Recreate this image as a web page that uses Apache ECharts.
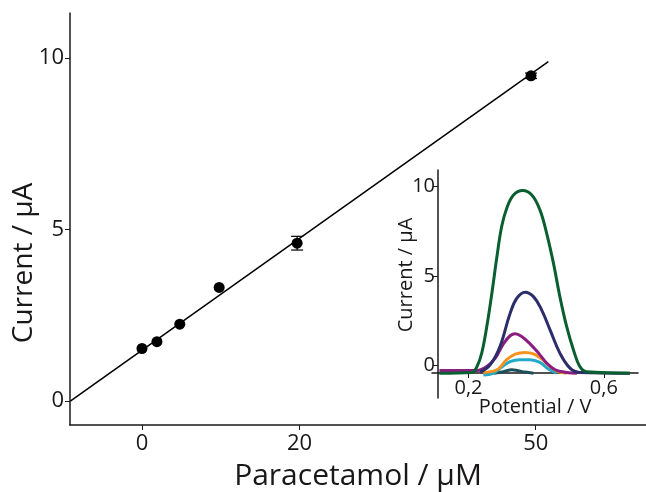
<!DOCTYPE html>
<html>
<head>
<meta charset="UTF-8">
<title>Paracetamol</title>
<script src="https://cdn.jsdelivr.net/npm/echarts@6/dist/echarts.min.js"></script>
<style>
	html, body { margin:0; padding:0; background:#fff; }
	#chart { width:646px; height:492px; }
</style>
</head>
<body>
<div id="chart"></div>
<script type="text/javascript">
	// calibration points (main plot)
	var concentration = [0, 1.9, 4.8, 9.8, 19.7, 49.4];
	var current = [1.53, 1.73, 2.24, 3.31, 4.60, 9.48];
	var currentErr = [0, 0, 0, 0, 0.2, 0.08];
	var fitSlope = 0.163, fitIntercept = 1.48;
	var fitRange = [-9.1, 51.6];
	var mainXTicks = [0, 20, 50];
	var mainYTicks = [0, 5, 10];

	// inset voltammograms [potential V, current µA]
	var curveGreen = [[0.114,-0.43],[0.210,-0.39],[0.225,-0.06],[0.239,0.69],[0.254,2.18],[0.269,4.04],[0.284,6.09],[0.298,7.77],[0.313,8.79],[0.333,9.53],[0.360,9.78],[0.387,9.53],[0.411,8.70],[0.431,7.39],[0.451,5.72],[0.470,3.85],[0.490,2.18],[0.510,0.88],[0.529,-0.06],[0.549,-0.35],[0.677,-0.43]];
	var curveNavy = [[0.234,-0.37],[0.264,0.04],[0.293,1.06],[0.323,2.92],[0.343,3.76],[0.367,4.10],[0.392,3.85],[0.416,3.11],[0.441,1.99],[0.470,0.69],[0.500,-0.15],[0.529,-0.39],[0.677,-0.43]];
	var curvePurple = [[0.114,-0.28],[0.225,-0.28],[0.254,-0.06],[0.279,0.41],[0.303,1.21],[0.323,1.66],[0.338,1.77],[0.357,1.62],[0.382,1.21],[0.407,0.69],[0.431,0.13],[0.456,-0.24],[0.490,-0.39],[0.520,-0.43]];
	var curveOrange = [[0.244,-0.39],[0.284,-0.24],[0.313,0.32],[0.338,0.63],[0.367,0.73],[0.392,0.65],[0.416,0.37],[0.441,-0.06],[0.465,-0.35],[0.490,-0.43]];
	var curveCyan = [[0.244,-0.54],[0.274,-0.43],[0.298,-0.09],[0.323,0.22],[0.352,0.32],[0.382,0.32],[0.411,0.17],[0.436,-0.20],[0.460,-0.43]];
	var curveTeal = [[0.274,-0.43],[0.303,-0.35],[0.328,-0.24],[0.347,-0.30],[0.367,-0.37],[0.392,-0.43]];
	var insetXTicks = [0.2, 0.6];
	var insetYTicks = [0, 5, 10];

	var ink = '#1a1718';
	var font = 'Open Sans';

	var chart = echarts.init(document.getElementById('chart'));

	var points = [];
	for (var i = 0; i < concentration.length; i++)
	{
		points.push([concentration[i], current[i], currentErr[i]]);
	}
	var fitLine = [
		[fitRange[0], fitIntercept + fitSlope * fitRange[0]],
		[fitRange[1], fitIntercept + fitSlope * fitRange[1]]
	];

	function curve(data, color)
	{
		return {
			type:'line', xAxisIndex:1, yAxisIndex:1, data:data,
			smooth:0.4, showSymbol:false, silent:true,
			lineStyle:{color:color, width:3}
		};
	}

	var option =
	{
		animation:false,
		grid:
		[
			{left:70, top:13, right:0, bottom:67, outerBoundsMode:'none', containLabel:false},
			{left:432, top:170, width:206, height:228, outerBoundsMode:'none', containLabel:false}
		],
		xAxis:
		[
			{
				type:'value', gridIndex:0, min:-9.14, max:64,
				splitLine:{show:false},
				axisLine:{onZero:false, lineStyle:{color:ink, width:1.5}},
				axisTick:{customValues:mainXTicks, length:5, lineStyle:{color:ink}},
				axisLabel:{customValues:mainXTicks, color:ink, fontFamily:font, fontSize:22, margin:8},
				name:'Paracetamol / µM', nameLocation:'middle', nameGap:36, nameMoveOverlap:false,
				nameTextStyle:{color:ink, fontFamily:font, fontSize:30}
			},
			{
				type:'value', gridIndex:1, min:0.092, max:0.701, offset:-25,
				splitLine:{show:false},
				axisLine:{onZero:false, lineStyle:{color:ink, width:1.5}},
				axisTick:{customValues:insetXTicks, length:5, lineStyle:{color:ink}},
				axisLabel:{customValues:insetXTicks, color:ink, fontFamily:font, fontSize:20, margin:5,
					formatter:function(v){ return String(v).replace('.', ','); }},
				name:'Potential / V', nameLocation:'middle', nameGap:24, nameMoveOverlap:false,
				nameTextStyle:{color:ink, fontFamily:font, fontSize:20}
			}
		],
		yAxis:
		[
			{
				type:'value', gridIndex:0, min:-0.7, max:11.31,
				splitLine:{show:false},
				axisLine:{onZero:false, lineStyle:{color:ink, width:1.5}},
				axisTick:{customValues:mainYTicks, length:5, lineStyle:{color:ink}},
				axisLabel:{customValues:mainYTicks, color:ink, fontFamily:font, fontSize:22, margin:6},
				name:'Current / µA', nameLocation:'middle', nameGap:32, nameMoveOverlap:false,
				nameTextStyle:{color:ink, fontFamily:font, fontSize:28, padding:[0, 88, 0, 0]}
			},
			{
				type:'value', gridIndex:1, min:-1.82, max:10.93, offset:-6,
				splitLine:{show:false},
				axisLine:{onZero:false, lineStyle:{color:ink, width:1.5}},
				axisTick:{customValues:insetYTicks, length:5, lineStyle:{color:ink}},
				axisLabel:{customValues:insetYTicks, color:ink, fontFamily:font, fontSize:20, margin:3},
				name:'Current / µA', nameLocation:'middle', nameGap:22, nameMoveOverlap:false,
				nameTextStyle:{color:ink, fontFamily:font, fontSize:20, padding:[0, 0, 0, 18]}
			}
		],
		series:
		[
			{
				type:'line', data:fitLine, showSymbol:false, silent:true,
				lineStyle:{color:'#000', width:1.5}
			},
			{
				type:'custom', data:points, silent:true,
				renderItem:function(params, api)
				{
					var x = api.value(0), y = api.value(1), e = api.value(2);
					if (!e) return null;
					var top = api.coord([x, y + e]);
					var bot = api.coord([x, y - e]);
					var w = 6;
					var st = {stroke:'#000', lineWidth:1.2};
					return {type:'group', children:[
						{type:'line', shape:{x1:top[0], y1:top[1], x2:bot[0], y2:bot[1]}, style:st},
						{type:'line', shape:{x1:top[0]-w, y1:top[1], x2:top[0]+w, y2:top[1]}, style:st},
						{type:'line', shape:{x1:bot[0]-w, y1:bot[1], x2:bot[0]+w, y2:bot[1]}, style:st}
					]};
				}
			},
			{
				type:'scatter', data:points, symbolSize:11, silent:true,
				itemStyle:{color:'#000', opacity:1}
			},
			curve(curveTeal, '#1d4f5c'),
			curve(curveCyan, '#22aac8'),
			curve(curveOrange, '#f7931e'),
			curve(curvePurple, '#8b1c80'),
			curve(curveNavy, '#2b2e6b'),
			curve(curveGreen, '#0a5f30')
		]
	};
	chart.setOption(option);
</script>
</body>
</html>
